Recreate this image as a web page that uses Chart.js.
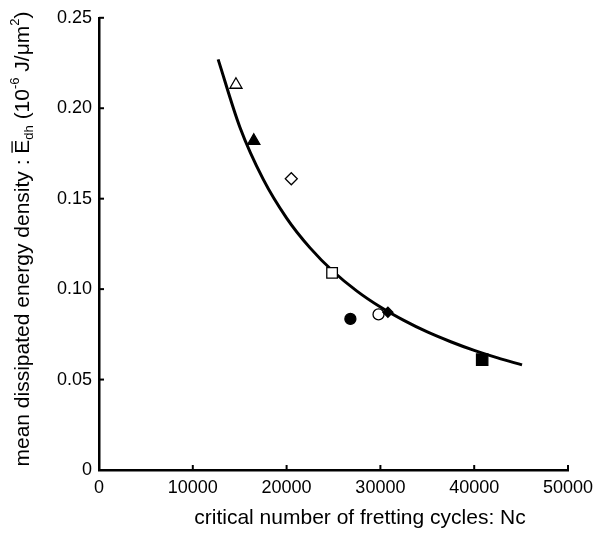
<!DOCTYPE html>
<html>
<head>
<meta charset="utf-8">
<script src="https://cdn.jsdelivr.net/npm/chart.js@4.4.1/dist/chart.umd.min.js"></script>
<style>
  body { margin: 0; background: #fff; }
</style>
</head>
<body>
<canvas id="frettingChart" width="601" height="537"></canvas>
<script>
// measured points (critical cycles vs mean dissipated energy density)
let cycles = [14600, 16500, 20500, 24850, 26800, 29800, 30800, 40850];
let energy = [0.213, 0.182, 0.161, 0.109, 0.0835, 0.086, 0.0872, 0.061];
let markers = ['triangle', 'triangle', 'rectRot', 'rect', 'circle', 'circle', 'rectRot', 'rect'];
let filled = [false, true, false, false, true, false, true, true];
let markerSize = [7, 7, 6, 7.5, 5.5, 5.5, 5, 8];

// fitted curve
let curveX = [12700, 15000, 17500, 20000, 22500, 25000, 27500, 30000, 32500, 35000, 37500, 40000, 42500, 45100];
let curveY = [0.2270, 0.1898, 0.1608, 0.1393, 0.1228, 0.1096, 0.0989, 0.0901, 0.0827, 0.0763, 0.0709, 0.0661, 0.0620, 0.0581];

let xTicks = [0, 10000, 20000, 30000, 40000, 50000];
let yTicks = [0, 0.05, 0.10, 0.15, 0.20, 0.25];

let xTitle = 'critical number of fretting cycles: Nc';

let fontFamily = '"Liberation Sans", Arial, Helvetica, sans-serif';

let ctx = document.getElementById('frettingChart').getContext('2d');

// inward tick marks + axis titles (y one has sub/superscripts)
let decorPlugin = {
    id: 'decor',
    afterDraw(chart) {
        let c = chart.ctx;
        let xs = chart.scales.x;
        let ys = chart.scales.y;
        c.save();
        c.strokeStyle = '#000';
        c.lineWidth = 2;
        yTicks.forEach(v => {
            let py = ys.getPixelForValue(v);
            c.beginPath();
            c.moveTo(xs.left, py);
            c.lineTo(xs.left + 5, py);
            c.stroke();
        });
        xTicks.forEach(v => {
            let px = xs.getPixelForValue(v);
            c.beginPath();
            c.moveTo(px, ys.bottom);
            c.lineTo(px, ys.bottom - 5);
            c.stroke();
        });

        let size = 21;
        let small = 13;

        // x title
        c.fillStyle = '#000';
        c.font = size + 'px ' + fontFamily;
        c.textAlign = 'center';
        c.textBaseline = 'middle';
        c.fillText(xTitle, 360, 518);

        // y title
        let parts = [
            {t: 'mean dissipated energy density : ', f: size, dy: 0},
            {t: 'E', f: size, dy: 0, bar: true},
            {t: 'dh', f: small, dy: 6},
            {t: ' (10', f: size, dy: 0},
            {t: '-6', f: small, dy: -8},
            {t: ' J/\u03bcm', f: size, dy: 0},
            {t: '2', f: small, dy: -8},
            {t: ')', f: size, dy: 0}
        ];
        let total = 0;
        parts.forEach(p => {
            c.font = p.f + 'px ' + fontFamily;
            p.w = c.measureText(p.t).width;
            total += p.w;
        });
        c.translate(23, 239);
        c.rotate(-Math.PI / 2);
        c.textAlign = 'left';
        let pos = -total / 2;
        parts.forEach(p => {
            c.font = p.f + 'px ' + fontFamily;
            c.fillText(p.t, pos, p.dy);
            if (p.bar) {
                c.lineWidth = 1.3;
                c.beginPath();
                c.moveTo(pos + 1, -size * 0.52);
                c.lineTo(pos + p.w - 1.5, -size * 0.52);
                c.stroke();
            }
            pos += p.w;
        });
        c.restore();
    }
};

let pointData = cycles.map((v, i) => ({x: v, y: energy[i]}));
let curveData = curveX.map((v, i) => ({x: v, y: curveY[i]}));

let frettingChart = new Chart(ctx, {
    type: 'scatter',
    data: {
        datasets: [{
            data: curveData,
            showLine: true,
            borderColor: '#000',
            borderWidth: 3,
            pointRadius: 0,
            cubicInterpolationMode: 'monotone',
            order: 2
        }, {
            data: pointData,
            pointStyle: markers,
            pointRadius: markerSize,
            pointBackgroundColor: filled.map(f => f ? '#000' : '#fff'),
            pointBorderColor: '#000',
            pointBorderWidth: 1.3,
            order: 1
        }]
    },
    options: {
        responsive: false,
        animation: false,
        layout: { padding: { top: 13, right: 33, left: 0, bottom: 0 } },
        plugins: { legend: { display: false }, tooltip: { enabled: false } },
        scales: {
            x: {
                type: 'linear',
                min: 0,
                max: 50000,
                afterBuildTicks: s => { s.ticks = xTicks.map(v => ({value: v})); },
                afterFit: s => { s.height = 67; },
                grid: { drawOnChartArea: false, drawTicks: false },
                border: { color: '#000', width: 2.5 },
                ticks: {
                    color: '#000',
                    padding: 7,
                    maxRotation: 0,
                    font: { size: 18, family: fontFamily },
                    callback: v => String(v)
                }
            },
            y: {
                type: 'linear',
                min: 0,
                max: 0.25,
                afterBuildTicks: s => { s.ticks = yTicks.map(v => ({value: v})); },
                afterFit: s => { s.width = 99; },
                grid: { drawOnChartArea: false, drawTicks: false },
                border: { color: '#000', width: 2.5 },
                ticks: {
                    color: '#000',
                    padding: 7,
                    font: { size: 18, family: fontFamily },
                    callback: v => v === 0 ? '0' : v.toFixed(2)
                }
            }
        }
    },
    plugins: [decorPlugin]
});
</script>
</body>
</html>
